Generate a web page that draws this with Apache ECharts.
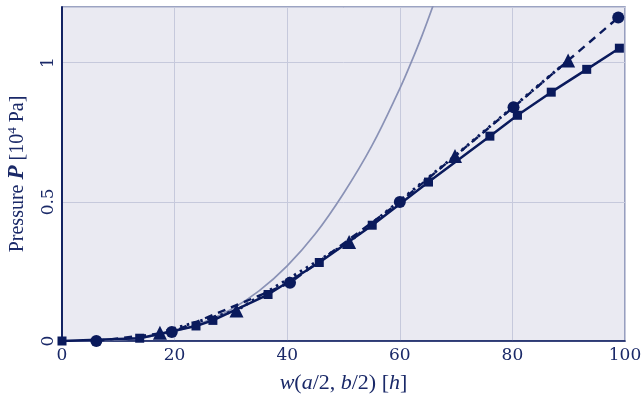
<!DOCTYPE html>
<html>
<head>
<meta charset="utf-8">
<script src="https://cdn.jsdelivr.net/npm/echarts@6/dist/echarts.min.js"></script>
<style>html,body{margin:0;padding:0;background:#fff;}#c{width:643px;height:402px;}</style>
</head>
<body>
<div id="c"></div>
<script>
// Data
const squaresX = [0, 13.8, 23.8, 26.8, 36.6, 45.7, 55.1, 65.1, 76.0, 80.9, 86.9, 93.2, 99.0];
const squaresY = [0, 0.01, 0.054, 0.074, 0.167, 0.282, 0.416, 0.571, 0.736, 0.811, 0.894, 0.976, 1.052];
const circlesX = [6.1, 19.5, 40.5, 60.0, 80.2, 98.8];
const circlesY = [0, 0.032, 0.209, 0.499, 0.840, 1.162];
const trianglesX = [17.4, 31.0, 51.0, 69.8, 89.9];
const trianglesY = [0.030, 0.110, 0.356, 0.665, 1.008];
const curveX = [0, 5, 10, 15, 20, 25, 30, 35, 40, 45, 50, 55, 60, 62, 64, 66];
const curveY = [0, 0.001, 0.004, 0.014, 0.034, 0.066, 0.113, 0.18, 0.27, 0.385, 0.53, 0.70, 0.907, 1.0, 1.1, 1.21];
const xTicks = [0, 20, 40, 60, 80, 100];
const yTicks = [0, 0.5, 1];

const navy = '#0a1a5c';
const textNavy = '#1a2968';
const zip = (xs, ys) => xs.map((x, i) => [x, ys[i]]);

const chart = echarts.init(document.getElementById('c'), null, {renderer: 'canvas'});
chart.setOption({
  animation: false,
  backgroundColor: '#ffffff',
  grid: {
    left: 62, right: 18, top: 7, bottom: 61,
    containLabel: false, outerBoundsMode: 'none',
    show: true, backgroundColor: '#eaeaf2', borderColor: '#7c86ae', borderWidth: 1.5
  },
  xAxis: {
    type: 'value', min: 0, max: 100, interval: 20,
    axisLine: {show: true, onZero: false, lineStyle: {color: navy, width: 1.5}},
    axisTick: {show: false},
    splitLine: {show: true, lineStyle: {color: '#c6c9dc', width: 1}},
    axisLabel: {
      margin: 6, color: textNavy, fontFamily: 'DejaVu Serif', fontSize: 17,
      formatter: v => xTicks.includes(v) ? String(v) : ''
    },
    name: '{i|w}({i|a}/2, {i|b}/2) [{i|h}]',
    nameLocation: 'middle', nameGap: 31,
    nameTextStyle: {
      color: textNavy, fontFamily: 'Liberation Serif', fontSize: 22,
      rich: {i: {fontStyle: 'italic', fontFamily: 'Liberation Serif', fontSize: 22, color: textNavy}}
    }
  },
  yAxis: [{
    type: 'value', min: 0, max: 1.2, interval: 0.5,
    axisLine: {show: true, onZero: false, lineStyle: {color: navy, width: 1.5}},
    axisTick: {show: false},
    splitLine: {show: true, lineStyle: {color: '#c6c9dc', width: 1}},
    axisLabel: {
      rotate: 90, margin: 5, color: textNavy, fontFamily: 'DejaVu Serif', fontSize: 17,
      formatter: v => {
        const t = yTicks.find(y => Math.abs(y - v) < 1e-9);
        return t === undefined ? '' : String(t);
      }
    },
    name: '{r|Pressure }{b|P}{r| [10}{s|4}{r| Pa]}',
    nameLocation: 'middle', nameGap: 33, nameRotate: 90,
    nameTextStyle: {
      color: textNavy, fontFamily: 'Liberation Serif', fontSize: 20,
      rich: {
        r: {fontFamily: 'Liberation Serif', fontSize: 20, color: textNavy},
        b: {fontFamily: 'Liberation Serif', fontSize: 23, fontStyle: 'italic', fontWeight: 'bold', color: textNavy},
        s: {fontFamily: 'Liberation Serif', fontSize: 13, color: textNavy, verticalAlign: 'top', padding: [0, 0, 8, 0]}
      }
    }
  }, {
    type: 'value', min: 0, max: 1.2, interval: 0.5, position: 'right',
    axisLine: {show: true, lineStyle: {color: navy, width: 1.5}},
    axisTick: {show: false}, axisLabel: {show: false}, splitLine: {show: false}
  }],
  series: [
    {
      type: 'line', data: zip(curveX, curveY), showSymbol: false, symbol: 'none', smooth: 0.4,
      lineStyle: {color: '#8a92b6', width: 1.7}, z: 2, clip: true
    },
    {
      type: 'line', data: zip(squaresX, squaresY), symbol: 'rect', symbolSize: 9,
      itemStyle: {color: navy}, lineStyle: {color: navy, width: 2.5, type: 'solid'}, z: 3
    },
    {
      type: 'line', data: zip(circlesX, circlesY), symbol: 'circle', symbolSize: 12,
      itemStyle: {color: navy}, lineStyle: {color: navy, width: 2.4, type: [8, 6]}, z: 4
    },
    {
      type: 'line', data: zip(trianglesX, trianglesY), symbol: 'triangle', symbolSize: 14,
      itemStyle: {color: navy}, lineStyle: {color: navy, width: 3, type: [2.5, 4.5]}, z: 5
    }
  ]
});
</script>
</body>
</html>
